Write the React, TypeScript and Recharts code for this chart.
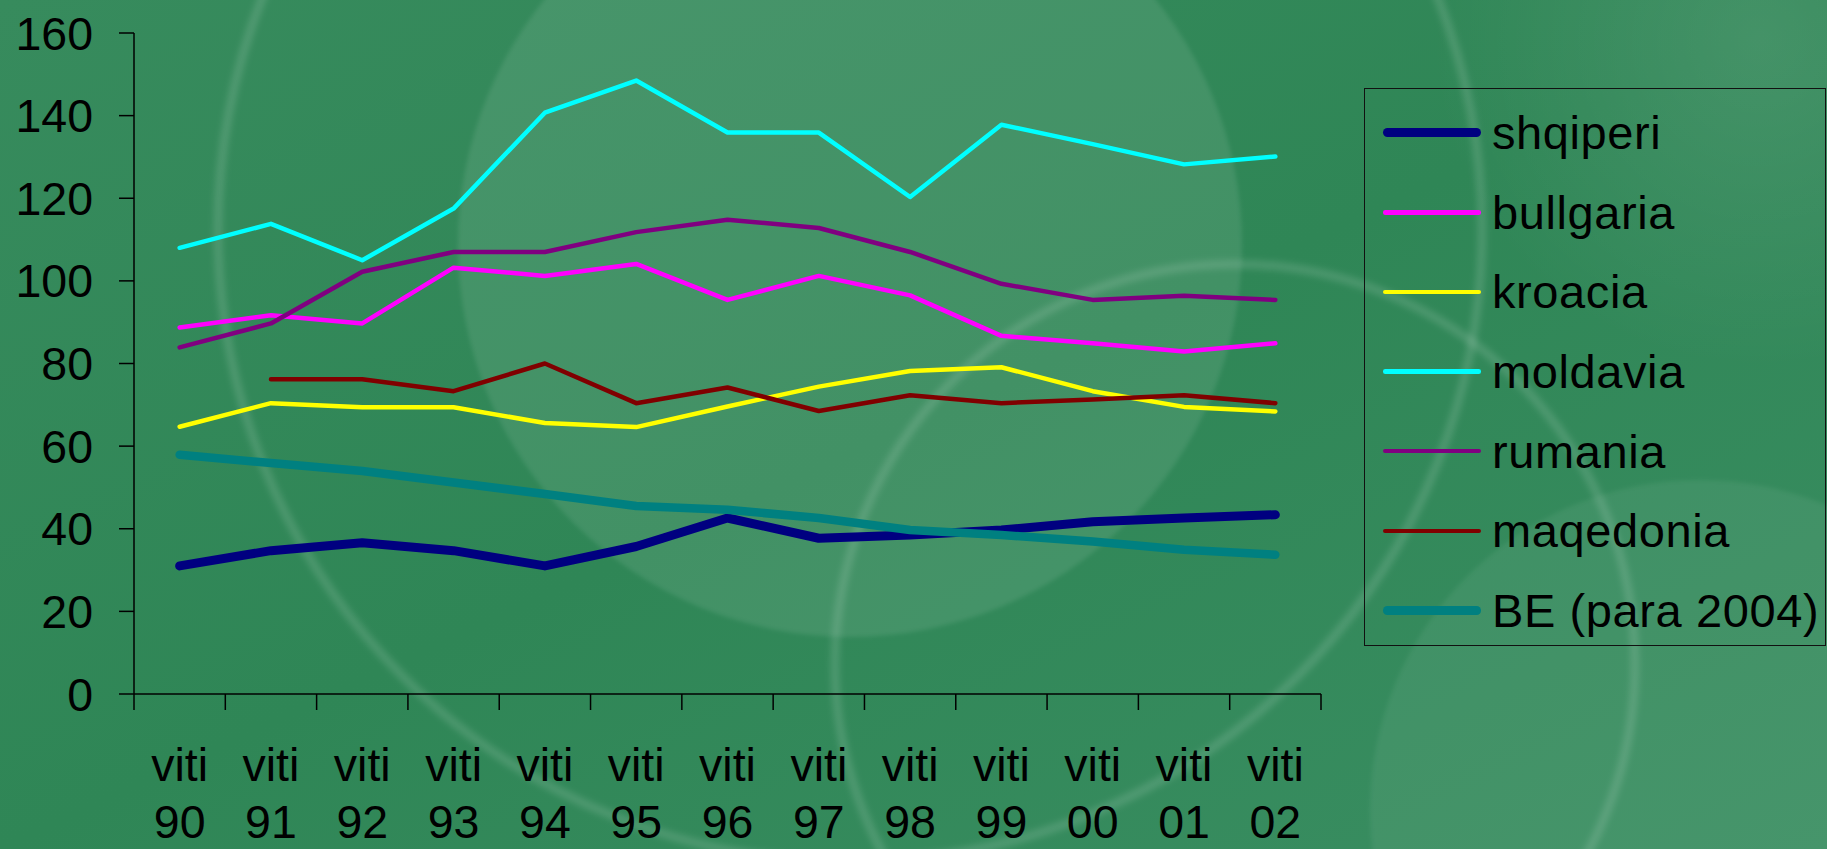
import { LineChart, Line, XAxis, YAxis } from "recharts";

// values, one per year (viti 90 .. viti 02)
const years = ["90", "91", "92", "93", "94", "95", "96", "97", "98", "99", "00", "01", "02"];
const shqiperi = [31, 34.7, 36.6, 34.7, 31, 35.7, 42.6, 37.7, 38.5, 39.7, 41.7, 42.6, 43.4];
const bullgaria = [88.7, 91.7, 89.7, 103.2, 101.2, 104.1, 95.4, 101.2, 96.5, 86.7, 84.9, 82.9, 84.9];
const kroacia = [64.7, 70.4, 69.4, 69.4, 65.6, 64.6, 69.6, 74.4, 78.2, 79.1, 73.3, 69.5, 68.4];
const moldavia = [108, 113.8, 105, 117.5, 140.7, 148.5, 135.9, 135.9, 120.3, 137.8, 133.1, 128.2, 130.1];
const rumania = [83.9, 89.7, 102.2, 107, 107, 111.8, 114.8, 112.8, 107, 99.3, 95.4, 96.4, 95.4];
const maqedonia = [null, 76.2, 76.2, 73.3, 80, 70.4, 74.2, 68.5, 72.3, 70.4, 71.3, 72.3, 70.4];
const be = [57.9, 55.9, 54, 51.2, 48.4, 45.5, 44.6, 42.6, 39.7, 38.5, 36.9, 34.9, 33.7];
const yTicks = [0, 20, 40, 60, 80, 100, 120, 140, 160];

const series = [
  { key: "shqiperi", label: "shqiperi", values: shqiperi, color: "#000080", width: 9 },
  { key: "bullgaria", label: "bullgaria", values: bullgaria, color: "#FF00FF", width: 4.5 },
  { key: "kroacia", label: "kroacia", values: kroacia, color: "#FFFF00", width: 4.5 },
  { key: "moldavia", label: "moldavia", values: moldavia, color: "#00FFFF", width: 4.5 },
  { key: "rumania", label: "rumania", values: rumania, color: "#800080", width: 4.5 },
  { key: "maqedonia", label: "maqedonia", values: maqedonia, color: "#800000", width: 4.5 },
  { key: "be", label: "BE (para 2004)", values: be, color: "#008080", width: 8.5 },
];

const rows = years.map((year, i) => {
  const row: Record<string, any> = { year };
  series.forEach((s) => {
    row[s.key] = s.values[i];
  });
  return row;
});

const FONT = "'Liberation Sans', Arial, sans-serif";

function YearTick(props: any) {
  const { x, y, payload, index, visibleTicksCount } = props;
  const half = payload && payload.offset ? payload.offset : 0;
  const last = index === visibleTicksCount - 1;
  return (
    <g>
      <line x1={x - half} x2={x - half} y1={y} y2={y + 16} stroke="#000" strokeWidth={1.5} />
      {last && <line x1={x + half} x2={x + half} y1={y} y2={y + 16} stroke="#000" strokeWidth={1.5} />}
      <text x={x} y={y + 87} textAnchor="middle" fontSize={46.5} fontFamily={FONT} fill="#000">
        viti
      </text>
      <text x={x} y={y + 144} textAnchor="middle" fontSize={46.5} fontFamily={FONT} fill="#000">
        {payload.value}
      </text>
    </g>
  );
}

function Background() {
  return (
    <svg width={1827} height={849} style={{ position: "absolute", left: 0, top: 0 }}>
      <defs>
        <linearGradient id="bg" x1="0" y1="0" x2="1" y2="1">
          <stop offset="0%" stopColor="#378b5d" />
          <stop offset="50%" stopColor="#2f8656" />
          <stop offset="100%" stopColor="#3a8e62" />
        </linearGradient>
        <radialGradient id="glow" cx="0.5" cy="0.5" r="0.5">
          <stop offset="0%" stopColor="rgba(255,255,255,0.1)" />
          <stop offset="100%" stopColor="rgba(255,255,255,0)" />
        </radialGradient>
        <filter id="soft">
          <feGaussianBlur stdDeviation="3" />
        </filter>
        <filter id="edge">
          <feGaussianBlur stdDeviation="2" />
        </filter>
      </defs>
      <rect width={1827} height={849} fill="url(#bg)" />
      <circle cx={1760} cy={40} r={330} fill="url(#glow)" />
      <circle cx={1700} cy={810} r={330} fill="rgba(255,255,255,0.06)" filter="url(#edge)" />
      <circle cx={850} cy={245} r={392} fill="rgba(255,255,255,0.09)" filter="url(#edge)" />
      <g filter="url(#soft)" fill="none" stroke="rgba(255,255,255,0.13)" strokeWidth={9}>
        <circle cx={850} cy={230} r={632} />
        <circle cx={1235} cy={664} r={400} />
      </g>
    </svg>
  );
}

function LegendBox() {
  return (
    <div
      style={{
        position: "absolute",
        left: 1364,
        top: 88,
        width: 462,
        height: 558,
        border: "1.5px solid #111",
        boxSizing: "border-box",
        paddingTop: 4,
      }}
    >
      {series.map((s) => (
        <div key={s.key} style={{ height: 79.6, display: "flex", alignItems: "center" }}>
          <div
            style={{
              marginLeft: 18,
              width: 98,
              height: s.width,
              borderRadius: s.width / 2,
              background: s.color,
            }}
          />
          <span
            style={{
              marginLeft: 11,
              fontFamily: FONT,
              fontSize: 47,
              color: "#000",
              whiteSpace: "nowrap",
              letterSpacing: 0.6,
            }}
          >
            {s.label}
          </span>
        </div>
      ))}
    </div>
  );
}

export default function App() {
  return (
    <div style={{ position: "fixed", left: 0, top: 0, width: 1827, height: 849, overflow: "hidden" }}>
      <Background />
      <div style={{ position: "absolute", left: 0, top: 0 }}>
        <LineChart width={1827} height={849} data={rows} margin={{ top: 33, right: 506, bottom: 0, left: 0 }}>
          <XAxis
            dataKey="year"
            scale="band"
            height={155}
            interval={0}
            tickLine={false}
            tickSize={0}
            tickMargin={0}
            axisLine={{ stroke: "#000", strokeWidth: 1.5 }}
            tick={<YearTick />}
          />
          <YAxis
            domain={[0, 160]}
            ticks={yTicks}
            width={134}
            tickSize={15}
            tickMargin={26}
            axisLine={{ stroke: "#000", strokeWidth: 1.5 }}
            tickLine={{ stroke: "#000", strokeWidth: 1.5 }}
            tick={{ fill: "#000", fontSize: 46.5, fontFamily: FONT }}
          />
          {series.map((s) => (
            <Line
              key={s.key}
              type="linear"
              dataKey={s.key}
              name={s.label}
              stroke={s.color}
              strokeWidth={s.width}
              strokeLinecap="round"
              strokeLinejoin="round"
              dot={false}
              activeDot={false}
              isAnimationActive={false}
            />
          ))}
        </LineChart>
      </div>
      <LegendBox />
    </div>
  );
}
